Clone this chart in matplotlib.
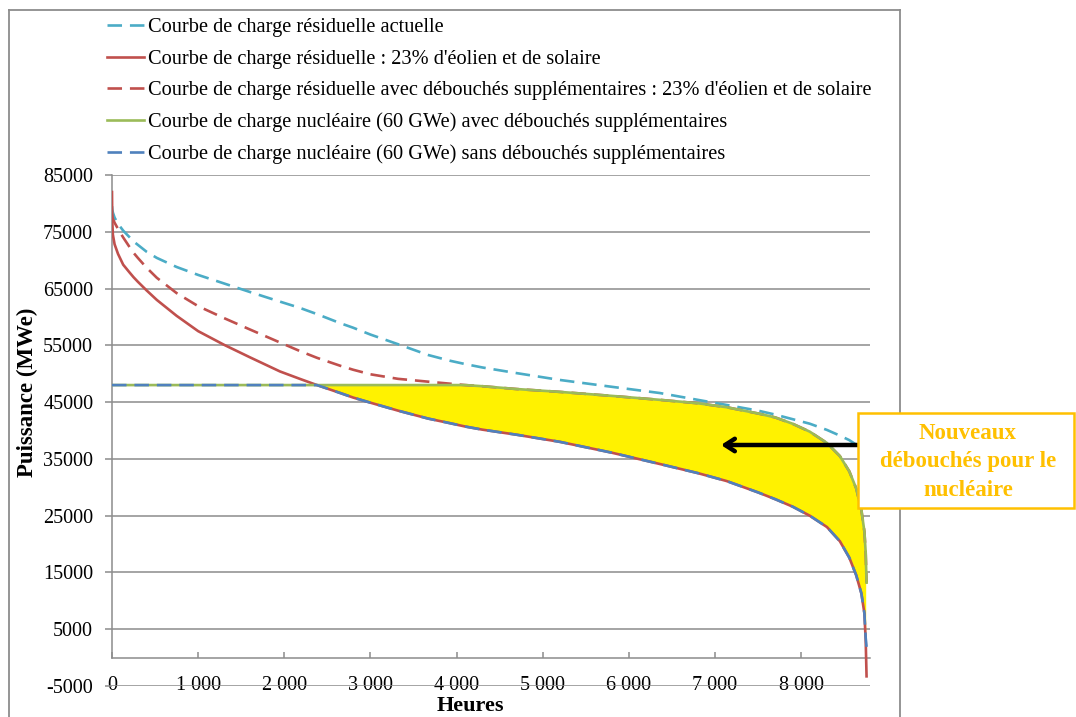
import matplotlib
matplotlib.use("Agg")
import matplotlib.pyplot as plt
from matplotlib.patches import Rectangle
from matplotlib.lines import Line2D

# ---------------- data ----------------
hours = [0, 3, 10, 30, 70, 130, 200, 250, 300, 400, 520, 750, 1000, 1300, 1600,
         1950, 2180, 2380, 2650, 2800, 3000, 3320, 3670, 3920, 4100, 4300, 4700,
         5200, 5800, 6360, 6800, 7135, 7500, 7700, 7900, 8100, 8300, 8450, 8560, 8640,
         8700, 8735, 8750, 8760]

residuelle_actuelle = [79500, 79000, 78400, 77500, 76400, 75200, 74100, 73300, 72700, 71500,
                       70400, 68800, 67400, 65900, 64400, 62700, 61600, 60500, 58900, 58100,
                       56900, 55200, 53300, 52300, 51700, 51100, 50100, 48900, 47700, 46600,
                       45400, 44500, 43500, 42800, 42000, 41200, 40100, 39100, 38300, 37500,
                       36700, 36000, 35500, 35000]

residuelle_23 = [82000, 77000, 74500, 72800, 71100, 69200, 67900, 67000, 66200, 64700,
                 63000, 60200, 57500, 55100, 52900, 50400, 49100, 48000, 46600, 45800,
                 44900, 43500, 42100, 41300, 40700, 40150, 39250, 38000, 36100, 34100,
                 32500, 31100, 29100, 27900, 26600, 25000, 23000, 20500, 17600, 14500,
                 11300, 7800, 3000, -3300]

residuelle_23_debouches = [78000, 77700, 77300, 76600, 75500, 74000, 72400, 71300, 70400, 68700,
                           66900, 64200, 61900, 59800, 57800, 55500, 54000, 52800, 51400, 50700,
                           49900, 49100, 48600, 48250, 48000, 47800, 47300, 46800, 46100, 45400,
                           44800, 44100, 43000, 42300, 41200, 39800, 37800, 35500, 32800, 29800,
                           26000, 22200, 18500, 13200]

nucleaire_avec = [48000, 48000, 48000, 48000, 48000, 48000, 48000, 48000, 48000, 48000,
                  48000, 48000, 48000, 48000, 48000, 48000, 48000, 48000, 48000, 48000,
                  48000, 48000, 48000, 48000, 48000, 47800, 47300, 46800, 46100, 45400,
                  44800, 44100, 43000, 42300, 41200, 39800, 37800, 35500, 32800, 29800,
                  26000, 22200, 18500, 13200]

nucleaire_sans = [48000, 48000, 48000, 48000, 48000, 48000, 48000, 48000, 48000, 48000,
                  48000, 48000, 48000, 48000, 48000, 48000, 48000, 48000, 46600, 45800,
                  44900, 43500, 42100, 41300, 40700, 40150, 39250, 38000, 36100, 34100,
                  32500, 31100, 29100, 27900, 26600, 25000, 23000, 20500, 17600, 14500,
                  11300, 7800, 3500, 1900]

series_labels = [
    "Courbe de charge résiduelle actuelle",
    "Courbe de charge résiduelle : 23% d'éolien et de solaire",
    "Courbe de charge résiduelle avec débouchés supplémentaires : 23% d'éolien et de solaire",
    "Courbe de charge nucléaire (60 GWe) avec débouchés supplémentaires",
    "Courbe de charge nucléaire (60 GWe) sans débouchés supplémentaires",
]

x_ticks = [0, 1000, 2000, 3000, 4000, 5000, 6000, 7000, 8000]
x_tick_labels = ["0", "1 000", "2 000", "3 000", "4 000", "5 000", "6 000", "7 000", "8 000"]
y_ticks = [-5000, 5000, 15000, 25000, 35000, 45000, 55000, 65000, 75000, 85000]
y_tick_labels = ["-5000", "5000", "15000", "25000", "35000", "45000", "55000", "65000", "75000", "85000"]

annotation_text = "Nouveaux\ndébouchés pour le\nnucléaire"

# ---------------- figure ----------------
W, H = 1076, 717
fig = plt.figure(figsize=(W / 100, H / 100), dpi=100)
fig.patch.set_facecolor("white")
plt.rcParams['font.family'] = ['Liberation Serif', 'DejaVu Serif']

def fx(px):
    return px / W

def fy(py):
    return 1 - py / H

ax_l, ax_r, ax_t, ax_b = 112, 870, 175, 686
ax = fig.add_axes([fx(ax_l), fy(ax_b), fx(ax_r - ax_l), (ax_b - ax_t) / H])
ax.set_xlim(0, 8800)
ax.set_ylim(-5000, 85000)

grey = "#8c8c8c"
ax.set_yticks(y_ticks)
ax.set_yticklabels(y_tick_labels)
ax.set_xticks(x_ticks)
ax.set_xticklabels(x_tick_labels)
ax.yaxis.grid(True, color=grey, linewidth=1.1)
ax.set_axisbelow(True)

for s in ["top", "right"]:
    ax.spines[s].set_visible(False)
ax.spines["bottom"].set_position(("data", 0))
ax.spines["bottom"].set_color(grey)
ax.spines["left"].set_color(grey)
ax.spines["left"].set_bounds(0, 85000)
ax.spines["bottom"].set_linewidth(1.1)
ax.spines["left"].set_linewidth(1.1)

ax.tick_params(axis="y", direction="out", length=5, width=1.1, color=grey,
               pad=8.5, labelsize=14.5)
ax.tick_params(axis="x", direction="in", length=4, width=1.1, color=grey,
               pad=13.5, labelsize=14.5)

c_cyan = "#4BACC6"
c_red = "#C0504D"
c_green = "#9BBB59"
c_blue = "#4F81BD"
lw = 1.9

ax.fill_between(hours[:-1], nucleaire_sans[:-1], nucleaire_avec[:-1],
                where=[a > b for a, b in zip(nucleaire_avec[:-1], nucleaire_sans[:-1])],
                interpolate=True, color="#FFF200", linewidth=0, zorder=1)

l1, = ax.plot(hours, residuelle_actuelle, color=c_cyan, lw=lw, dashes=(5.5, 3), zorder=2)
l2, = ax.plot(hours, residuelle_23, color=c_red, lw=lw, zorder=3)
l3, = ax.plot(hours, residuelle_23_debouches, color=c_red, lw=lw, dashes=(5.5, 3), zorder=4)
l4, = ax.plot(hours, nucleaire_avec, color=c_green, lw=lw, zorder=5)
l5, = ax.plot(hours, nucleaire_sans, color=c_blue, lw=lw, dashes=(5.5, 3), zorder=6)

fig.text(fx(27), fy(392), "Puissance (MWe)", rotation=90, ha="center", va="center",
         fontsize=16.5, fontweight="bold")
fig.text(fx(470), fy(706), "Heures", ha="center", va="center",
         fontsize=16, fontweight="bold")

# legend
leg = fig.legend([l1, l2, l3, l4, l5], series_labels, loc="upper left",
                 bbox_to_anchor=(fx(107), fy(18)), frameon=False, fontsize=14.7,
                 handlelength=1.8, handletextpad=0.2, labelspacing=0.6,
                 borderpad=0, borderaxespad=0)

# chart border
fig.add_artist(Line2D([fx(9), fx(900)], [fy(10), fy(10)], color="#8c8c8c", lw=1.3))
fig.add_artist(Line2D([fx(9), fx(9)], [fy(10), fy(720)], color="#8c8c8c", lw=1.3))
fig.add_artist(Line2D([fx(900), fx(900)], [fy(10), fy(720)], color="#8c8c8c", lw=1.3))

# annotation box and arrow
box = Rectangle((fx(858), fy(508)), fx(1074 - 858), (508 - 413) / H, transform=fig.transFigure,
                facecolor="white", edgecolor="#FFC000", linewidth=1.8, zorder=10)
fig.add_artist(box)
fig.text(fx(968), fy(462), annotation_text, ha="center", va="center", fontsize=16.5,
         fontweight="bold", color="#FFC000", linespacing=1.45, zorder=11)
ax.annotate("", xy=(fx(721), fy(445)), xycoords="figure fraction",
            xytext=(fx(858), fy(445)), textcoords="figure fraction",
            arrowprops=dict(arrowstyle="->,head_length=0.7,head_width=0.45",
                            color="black", lw=3.2, shrinkA=0, shrinkB=0),
            zorder=9)

fig.savefig("out.png", dpi=100)
